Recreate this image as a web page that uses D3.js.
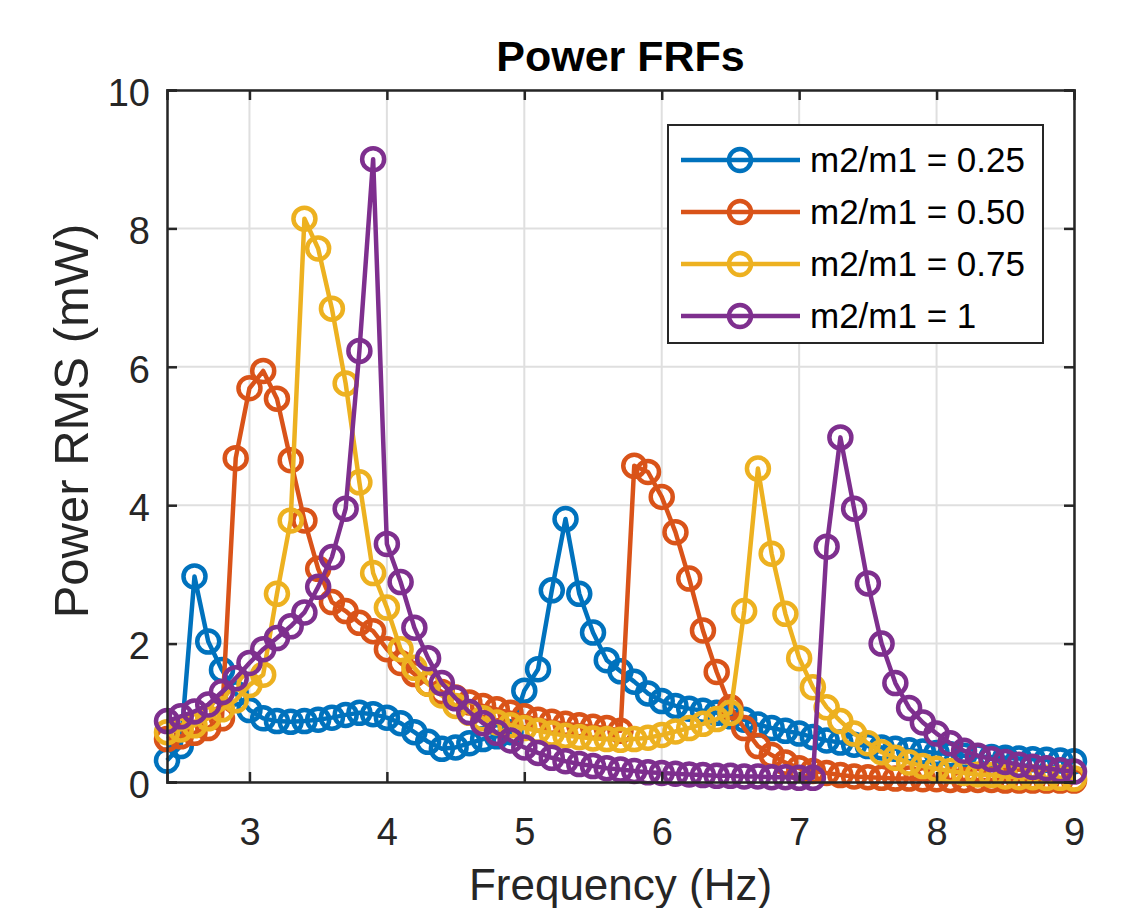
<!DOCTYPE html>
<html>
<head>
<meta charset="utf-8">
<script src="https://cdn.jsdelivr.net/npm/d3@7"></script>
<style>
  body { margin: 0; background: #fff; }
  svg text { font-family: Arial, "Liberation Sans", sans-serif; fill: #262626; }
</style>
</head>
<body>
<div id="chart"></div>
<script>
// frequency grid (Hz)
const freqs = d3.range(66 + 1).map(i => +(2.4 + i * 0.1).toFixed(1));

const seriesNames = ["m2/m1 = 0.25", "m2/m1 = 0.50", "m2/m1 = 0.75", "m2/m1 = 1"];
const seriesColors = ["#0072BD", "#D95319", "#EDB120", "#7E2F8E"];

// power RMS (mW), 2.4 .. 9.0 Hz
const ratio025 = [
  0.31, 0.52, 2.97, 2.03, 1.62, 1.28, 1.04, 0.92, 0.88, 0.87,
  0.88, 0.90, 0.93, 0.97, 1.00, 0.98, 0.93, 0.85, 0.72, 0.58,
  0.48, 0.50, 0.56, 0.62, 0.66, 0.72, 1.32, 1.63, 2.77, 3.80,
  2.72, 2.16, 1.76, 1.60, 1.45, 1.28, 1.17, 1.10, 1.06, 1.03,
  1.00, 0.95, 0.90, 0.83, 0.78, 0.74, 0.70, 0.65, 0.60, 0.57,
  0.54, 0.52, 0.50, 0.48, 0.46, 0.44, 0.42, 0.40, 0.38, 0.37,
  0.36, 0.35, 0.34, 0.33, 0.32, 0.31, 0.30
];
const ratio050 = [
  0.62, 0.66, 0.71, 0.78, 0.92, 4.68, 5.69, 5.94, 5.54, 4.65,
  3.78, 3.08, 2.60, 2.47, 2.30, 2.18, 1.92, 1.72, 1.56, 1.42,
  1.30, 1.22, 1.15, 1.10, 1.05, 1.00, 0.95, 0.90, 0.87, 0.84,
  0.82, 0.80, 0.78, 0.74, 4.57, 4.48, 4.12, 3.61, 2.94, 2.19,
  1.59, 1.08, 0.78, 0.52, 0.39, 0.28, 0.20, 0.16, 0.13, 0.10,
  0.08, 0.07, 0.06, 0.05, 0.05, 0.04, 0.04, 0.03, 0.03, 0.03,
  0.03, 0.02, 0.02, 0.02, 0.02, 0.02, 0.02
];
const ratio075 = [
  0.72, 0.76, 0.82, 0.92, 1.05, 1.18, 1.40, 1.55, 2.72, 3.78,
  8.14, 7.71, 6.84, 5.76, 4.33, 3.02, 2.52, 1.92, 1.65, 1.42,
  1.25, 1.10, 1.00, 0.92, 0.86, 0.82, 0.78, 0.74, 0.70, 0.67,
  0.65, 0.63, 0.62, 0.61, 0.62, 0.64, 0.68, 0.73, 0.78, 0.84,
  0.91, 1.00, 2.47, 4.53, 3.30, 2.43, 1.79, 1.37, 1.08, 0.88,
  0.70, 0.56, 0.43, 0.35, 0.28, 0.23, 0.19, 0.16, 0.13, 0.11,
  0.10, 0.08, 0.07, 0.07, 0.06, 0.06, 0.05
];
const ratio100 = [
  0.88, 0.95, 1.02, 1.12, 1.30, 1.50, 1.72, 1.92, 2.08, 2.25,
  2.45, 2.82, 3.25, 3.95, 6.23, 9.00, 3.44, 2.89, 2.23, 1.79,
  1.43, 1.21, 1.01, 0.85, 0.71, 0.60, 0.50, 0.42, 0.35, 0.30,
  0.26, 0.23, 0.20, 0.18, 0.16, 0.14, 0.13, 0.12, 0.11, 0.10,
  0.09, 0.09, 0.08, 0.08, 0.07, 0.07, 0.06, 0.06, 3.40, 4.98,
  3.95, 2.87, 2.00, 1.43, 1.07, 0.86, 0.70, 0.56, 0.45, 0.38,
  0.33, 0.29, 0.25, 0.22, 0.20, 0.17, 0.15
];
const seriesValues = [ratio025, ratio050, ratio075, ratio100];

const xTicks = [3, 4, 5, 6, 7, 8, 9];
const yTicks = [0, 2, 4, 6, 8, 10];

const width = 1130, height = 908;
const margin = {left: 167, right: 56, top: 90, bottom: 126};
const innerW = width - margin.left - margin.right;
const innerH = height - margin.top - margin.bottom;
const axisColor = "#262626";

const svg = d3.select("#chart").append("svg")
    .attr("width", width)
    .attr("height", height);

const x = d3.scaleLinear().domain([2.4, 9]).range([margin.left, margin.left + innerW]);
const y = d3.scaleLinear().domain([0, 10]).range([margin.top + innerH, margin.top]);

// grid
const grid = svg.append("g");
grid.selectAll(".gx").data(xTicks).join("line")
    .attr("x1", d => x(d)).attr("x2", d => x(d))
    .attr("y1", margin.top).attr("y2", margin.top + innerH)
    .attr("stroke", "#dfdfdf").attr("stroke-width", 2);
grid.selectAll(".gy").data(yTicks).join("line")
    .attr("y1", d => y(d)).attr("y2", d => y(d))
    .attr("x1", margin.left).attr("x2", margin.left + innerW)
    .attr("stroke", "#dfdfdf").attr("stroke-width", 2);

// series
const line = d3.line().x((d, i) => x(freqs[i])).y(d => y(d));
seriesValues.forEach((vals, k) => {
    const g = svg.append("g");
    g.append("path")
        .attr("d", line(vals))
        .attr("fill", "none")
        .attr("stroke", seriesColors[k])
        .attr("stroke-width", 4.5)
        .attr("stroke-linejoin", "round");
    g.selectAll("circle").data(vals).join("circle")
        .attr("cx", (d, i) => x(freqs[i]))
        .attr("cy", d => y(d))
        .attr("r", 11)
        .attr("fill", "none")
        .attr("stroke", seriesColors[k])
        .attr("stroke-width", 4.5);
});

// axes (box with inward ticks on all sides)
const tickLen = 10;
svg.append("g").attr("transform", `translate(0,${margin.top + innerH})`)
    .call(d3.axisBottom(x).tickValues(xTicks).tickSize(-tickLen).tickPadding(36).tickFormat(d3.format("d")));
svg.append("g").attr("transform", `translate(0,${margin.top})`)
    .call(d3.axisTop(x).tickValues(xTicks).tickSize(-tickLen).tickFormat(""));
const yAxis = svg.append("g").attr("transform", `translate(${margin.left},0)`)
    .call(d3.axisLeft(y).tickValues(yTicks).tickSize(-tickLen).tickPadding(17).tickFormat(d3.format("d")));
svg.append("g").attr("transform", `translate(${margin.left + innerW},0)`)
    .call(d3.axisRight(y).tickValues(yTicks).tickSize(-tickLen).tickFormat(""));

svg.selectAll(".domain").attr("stroke", axisColor).attr("stroke-width", 2.5);
svg.selectAll(".tick line").attr("stroke", axisColor).attr("stroke-width", 2.5);
svg.selectAll(".tick text").attr("font-size", 38).style("fill", axisColor)
    .style("font-family", "Arial, 'Liberation Sans', sans-serif");
yAxis.selectAll(".tick text").attr("dy", "0.4em");

// title and labels
svg.append("text")
    .attr("x", margin.left + innerW / 2).attr("y", 71)
    .attr("text-anchor", "middle")
    .attr("font-size", 43).attr("font-weight", "bold")
    .style("fill", "#000")
    .text("Power FRFs");
svg.append("text")
    .attr("x", margin.left + innerW / 2).attr("y", 900)
    .attr("text-anchor", "middle")
    .attr("font-size", 44)
    .text("Frequency (Hz)");
svg.append("text")
    .attr("transform", `translate(88,421) rotate(-90)`)
    .attr("text-anchor", "middle")
    .attr("font-size", 49)
    .text("Power RMS (mW)");

// legend
const legend = svg.append("g");
legend.append("rect")
    .attr("x", 668).attr("y", 125).attr("width", 375).attr("height", 218)
    .attr("fill", "#fff").attr("stroke", axisColor).attr("stroke-width", 2);
seriesNames.forEach((name, k) => {
    const ly = 160 + k * 52;
    legend.append("line")
        .attr("x1", 681).attr("x2", 800).attr("y1", ly).attr("y2", ly)
        .attr("stroke", seriesColors[k]).attr("stroke-width", 4.5);
    legend.append("circle")
        .attr("cx", 740).attr("cy", ly).attr("r", 11)
        .attr("fill", "none").attr("stroke", seriesColors[k]).attr("stroke-width", 4.5);
    legend.append("text")
        .attr("x", 810).attr("y", ly + 12)
        .attr("font-size", 35).style("fill", "#000")
        .text(name);
});
</script>
</body>
</html>
